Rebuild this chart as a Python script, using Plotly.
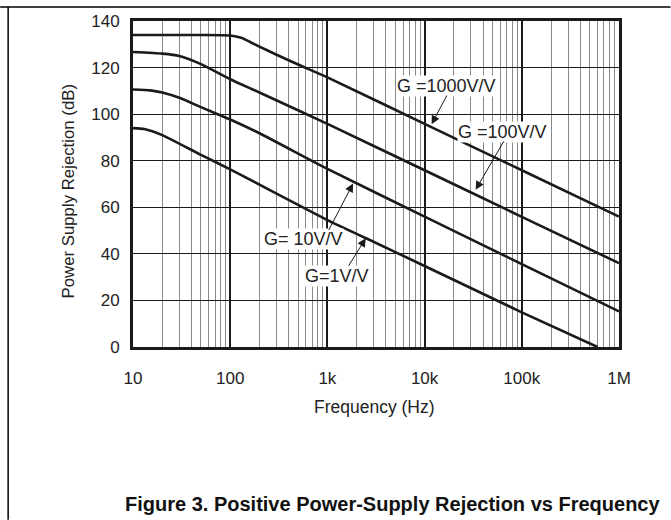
import math
import plotly.graph_objects as go

# ---- data ----
f_g1000 = [10, 50, 100, 130, 160, 200, 300, 500, 1000, 10000, 100000, 1000000]
v_g1000 = [134, 134, 133.8, 132.8, 131, 129, 125.5, 121.3, 115.8, 95.8, 75.9, 56]

f_g100 = [10, 20, 30, 50, 100, 200, 1000, 10000, 100000, 1000000]
v_g100 = [126.7, 126, 125, 121.5, 115, 109.3, 95.8, 75.9, 55.9, 36]

f_g10 = [10, 15, 20, 30, 50, 100, 200, 1000, 10000, 100000, 1000000]
v_g10 = [110.6, 110.2, 109.3, 107, 103, 97.7, 91.8, 76.5, 56, 35.6, 15.3]

f_g1 = [10, 13, 20, 50, 100, 1000, 2500, 10000, 100000, 600000]
v_g1 = [94, 93.6, 91, 82.5, 76.3, 54.5, 46.7, 34.8, 14.9, 0]

x_tickvals = [10, 100, 1000, 10000, 100000, 1000000]
x_ticktext = ["10", "100", "1k", "10k", "100k", "1M"]
y_tickvals = [0, 20, 40, 60, 80, 100, 120, 140]

labels = ["G =1000V/V", "G =100V/V", "G= 10V/V", "G=1V/V"]
label_freq = [16900, 64000, 562, 1265]
label_db = [112.3, 92.3, 46.3, 30.6]
tip_freq = [11800, 33500, 1835, 2480]
tip_db = [95.7, 67.5, 70.2, 46.7]
arrow_off = [(16, -30), (29, -50), (-25, 48), (-18, 29)]

FONT = "Liberation Sans, Arial, sans-serif"
INK = "#1a1a1a"

fig = go.Figure()
for fx, vy, name in zip([f_g1000, f_g100, f_g10, f_g1],
                        [v_g1000, v_g100, v_g10, v_g1], labels):
    fig.add_trace(go.Scatter(x=fx, y=vy, mode="lines", name=name,
                             line=dict(color=INK, width=2.6, shape="spline", smoothing=0.5),
                             showlegend=False))

for fq, db, txt in zip(label_freq, label_db, labels):
    fig.add_annotation(x=math.log10(fq), y=db, xref="x", yref="y", text=txt, showarrow=False,
                       xanchor="center", yanchor="middle",
                       font=dict(family=FONT, size=18, color="#222"),
                       bgcolor="white", borderpad=0)

for fq, db, (ox, oy) in zip(tip_freq, tip_db, arrow_off):
    fig.add_annotation(x=math.log10(fq), y=db, xref="x", yref="y", text="", showarrow=True,
                       ax=ox, ay=oy, arrowhead=2, arrowsize=1.7, arrowwidth=1,
                       arrowcolor=INK, standoff=0, startstandoff=0)

fig.update_xaxes(type="log", range=[1, 6], tickvals=x_tickvals, ticktext=x_ticktext,
                 showgrid=True, gridcolor=INK, gridwidth=2,
                 minor=dict(dtick="D1", showgrid=True, gridcolor="#8a8a8a", gridwidth=1, ticks=""),
                 showline=True, linecolor=INK, linewidth=3, mirror=True,
                 ticks="", zeroline=False, ticklabelstandoff=14,
                 tickfont=dict(family=FONT, size=17, color="#222"))
fig.update_yaxes(range=[0, 140], tickvals=y_tickvals,
                 showgrid=True, gridcolor=INK, gridwidth=1.3,
                 showline=True, linecolor=INK, linewidth=3, mirror=True,
                 ticks="", zeroline=False, ticklabelstandoff=7,
                 tickfont=dict(family=FONT, size=17, color="#222"))

# axis titles
fig.add_annotation(x=0.4974, y=-0.1839, xref="paper", yref="paper", showarrow=False,
                   xanchor="center", yanchor="middle",
                   text="Frequency (Hz)", font=dict(family=FONT, size=17.5, color="#222"))
fig.add_annotation(x=-0.1336, y=0.4772, xref="paper", yref="paper", showarrow=False,
                   xanchor="center", yanchor="middle",
                   text="Power Supply Rejection (dB)", textangle=-90,
                   font=dict(family=FONT, size=16.8, color="#222"))

# frame lines of the figure page
fig.add_shape(type="line", xref="paper", yref="paper", x0=-0.2734, x1=1.106, y0=1.0426, y1=1.0426,
              line=dict(color="black", width=1.5))
fig.add_shape(type="line", xref="paper", yref="paper", x0=-0.2569, x1=-0.2569, y0=1.0426, y1=-0.53,
              line=dict(color="black", width=1.5))

fig.add_annotation(x=0.5334, y=-0.4802, xref="paper", yref="paper", showarrow=False,
                   xanchor="center", yanchor="middle",
                   text="<b>Figure 3. Positive Power-Supply Rejection vs Frequency</b>",
                   font=dict(family=FONT, size=20, color="#111"))

fig.update_layout(width=671, height=520, margin=dict(l=133, r=51.5, t=18, b=173),
                  paper_bgcolor="white", plot_bgcolor="white")

fig.write_html("out.html", post_script="document.body.style.margin='0';",
               config={"displayModeBar": False})
